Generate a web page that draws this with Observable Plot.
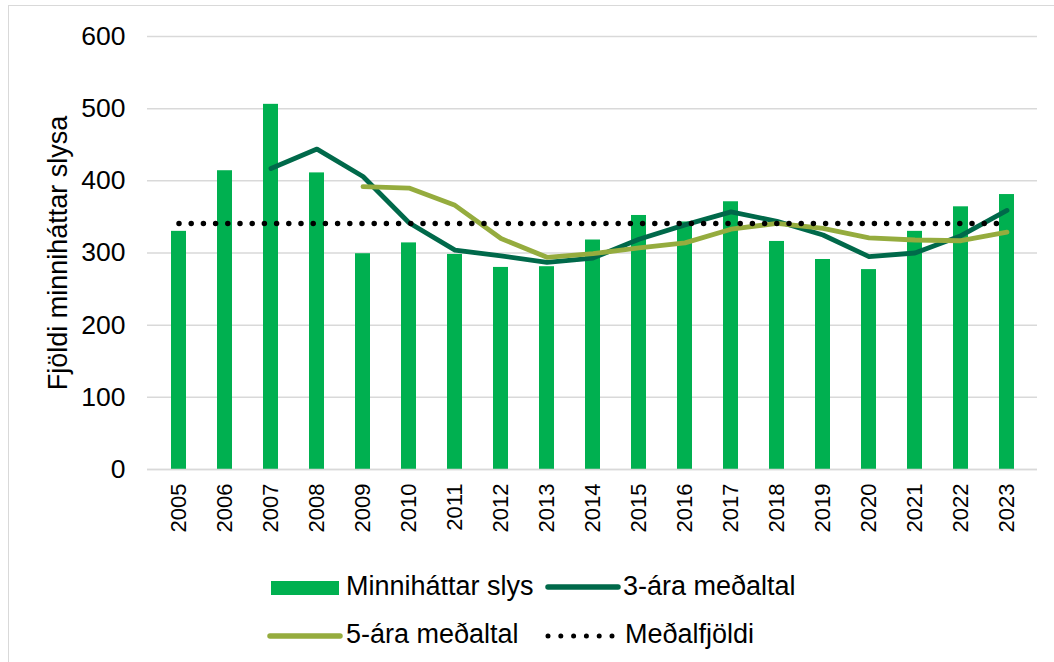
<!DOCTYPE html>
<html><head><meta charset="utf-8">
<script src="https://cdn.jsdelivr.net/npm/d3@7"></script>
<script src="https://cdn.jsdelivr.net/npm/@observablehq/plot@0.6"></script>
<style>
body{margin:0;background:#fff;font-family:"Liberation Sans",Arial,sans-serif;}
#wrap{position:relative;width:1054px;height:662px;overflow:hidden;background:#fff;}
#frame{position:absolute;left:8px;top:5px;width:1100px;height:700px;border-left:1px solid #d9d9d9;border-top:1px solid #d9d9d9;}
#chart{position:absolute;left:0;top:0;}
.lt{position:absolute;font-size:27px;line-height:27px;color:#000;white-space:nowrap;}
.sw{position:absolute;}
</style></head><body>
<div id="wrap"><div id="frame"></div><div id="chart"></div><div id="legend"></div></div>
<script>
const years = ["2005","2006","2007","2008","2009","2010","2011","2012","2013","2014","2015","2016","2017","2018","2019","2020","2021","2022","2023"];
const minorAccidents = [330, 414, 506, 411, 299, 314, 298, 280, 281, 318, 352, 343, 371, 316, 291, 277, 330, 364, 381];
const avg3Years = years.slice(2);
const avg3Values = [417, 444, 406, 342, 304, 296, 287, 293, 319, 339, 357, 344, 325, 295, 300, 324, 359];
const avg5Years = years.slice(4);
const avg5Values = [392, 390, 366, 320, 294, 299, 307, 314, 333, 341, 334, 321, 318, 317, 329];
const meanValue = 341;
const yTicks = [0, 100, 200, 300, 400, 500, 600];
const yTitle = "Fjöldi minniháttar slysa";
const legendLabels = ["Minniháttar slys", "3-ára meðaltal", "5-ára meðaltal", "Meðalfjöldi"];

const colBar = "#00B050", col3 = "#00694A", col5 = "#95AC3E";

const bars = years.map((y, i) => ({year: y, value: minorAccidents[i]}));
const l3 = avg3Years.map((y, i) => ({year: y, value: avg3Values[i]}));
const l5 = avg5Years.map((y, i) => ({year: y, value: avg5Values[i]}));
const lm = years.map(y => ({year: y, value: meanValue}));

const chart = Plot.plot({
  width: 1054, height: 545,
  marginLeft: 147, marginRight: 17, marginTop: 36, marginBottom: 76,
  style: {fontFamily: "'Liberation Sans', Arial, sans-serif", fontSize: "22px", color: "#000", background: "transparent"},
  x: {type: "band", domain: years, paddingInner: 0.68, paddingOuter: 0.34},
  y: {domain: [0, 600]},
  marks: [
    Plot.gridY(yTicks, {stroke: "#d9d9d9", strokeOpacity: 1, strokeWidth: 1.5}),
    Plot.barY(bars, {x: "year", y: "value", fill: colBar}),
    Plot.ruleY([0], {stroke: "#d9d9d9", strokeWidth: 1.5}),
    Plot.line(l3, {x: "year", y: "value", stroke: col3, strokeWidth: 4.8}),
    Plot.line(l5, {x: "year", y: "value", stroke: col5, strokeWidth: 4.8}),
    Plot.line(lm, {x: "year", y: "value", stroke: "#000", strokeWidth: 5.5, strokeDasharray: "0 12.2", strokeLinecap: "round"}),
    Plot.axisY(yTicks, {tickSize: 0, tickPadding: 22, fontSize: 26.5, label: null}),
    Plot.text([yTitle], {frameAnchor: "left", textAnchor: "middle", dx: -89, rotate: -90, fontSize: 27, fill: "#000"}),
    Plot.axisX({tickSize: 0, tickRotate: -90, tickPadding: 14, fontSize: 22, label: null})
  ]
});
document.getElementById("chart").appendChild(chart);

const leg = document.getElementById("legend");
function addText(t, left, top) {
  const d = document.createElement("div");
  d.className = "lt"; d.style.left = left + "px"; d.style.top = top + "px"; d.textContent = t;
  leg.appendChild(d);
}
function addSvg(left, top, w, h, inner) {
  const s = document.createElementNS("http://www.w3.org/2000/svg", "svg");
  s.setAttribute("width", w); s.setAttribute("height", h);
  s.setAttribute("class", "sw"); s.style.left = left + "px"; s.style.top = top + "px";
  s.innerHTML = inner; leg.appendChild(s);
}
addSvg(271, 581, 68, 14, `<rect x="0" y="0" width="68" height="14" fill="${colBar}"/>`);
addText(legendLabels[0], 346, 573);
addSvg(545, 580, 76, 14, `<line x1="3" y1="7" x2="73" y2="7" stroke="${col3}" stroke-width="5.5" stroke-linecap="round"/>`);
addText(legendLabels[1], 623, 573);
addSvg(267, 629, 76, 14, `<line x1="3" y1="7" x2="73" y2="7" stroke="${col5}" stroke-width="5.5" stroke-linecap="round"/>`);
addText(legendLabels[2], 346, 621);
addSvg(543, 629, 76, 14, `<line x1="5" y1="7" x2="70" y2="7" stroke="#000" stroke-width="5" stroke-dasharray="0 12.8" stroke-linecap="round"/>`);
addText(legendLabels[3], 625, 621);
</script>
</body></html>
